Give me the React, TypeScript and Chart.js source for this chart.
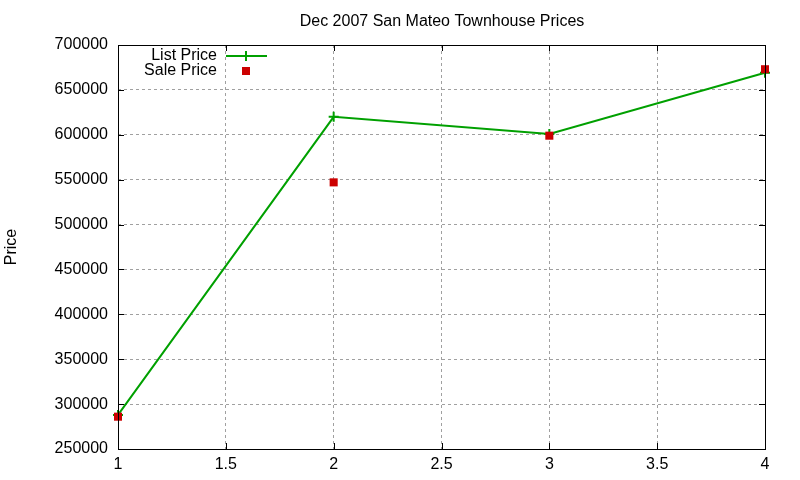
import { useEffect, useRef } from 'react'
import { Chart, registerables } from 'chart.js'

Chart.register(...registerables)

const FONT = '"Liberation Sans", Arial, sans-serif'

const title = 'Dec 2007 San Mateo Townhouse Prices'
const yTitle = 'Price'
const months = [1, 2, 3, 4]
const listPrice = [288000, 620000, 601000, 669000]
const salePrice = [286000, 547000, 599000, 673000]
const seriesNames = ['List Price', 'Sale Price']

const green = '#00a000'
const red = '#cc0000'

// gnuplot-like frame: inner tick marks on all four sides, title, key
const framePlugin = {
  id: 'frame',
  afterDraw(chart: any) {
    const { ctx, chartArea: a, scales } = chart
    const x = scales.x
    const y = scales.y
    ctx.save()
    ctx.strokeStyle = '#000'
    ctx.lineWidth = 1
    ctx.beginPath()
    x.ticks.forEach((t: any) => {
      const px = Math.round(x.getPixelForValue(t.value)) + 0.5
      ctx.moveTo(px, a.bottom)
      ctx.lineTo(px, a.bottom - 6)
      ctx.moveTo(px, a.top)
      ctx.lineTo(px, a.top + 6)
    })
    y.ticks.forEach((t: any) => {
      const py = Math.round(y.getPixelForValue(t.value)) + 0.5
      ctx.moveTo(a.left, py)
      ctx.lineTo(a.left + 6, py)
      ctx.moveTo(a.right, py)
      ctx.lineTo(a.right - 6, py)
    })
    ctx.stroke()
    ctx.strokeRect(Math.round(a.left) + 0.5, Math.round(a.top) + 0.5, Math.round(a.right - a.left), Math.round(a.bottom - a.top))

    ctx.fillStyle = '#000'
    ctx.font = `16px ${FONT}`
    ctx.textAlign = 'center'
    ctx.textBaseline = 'middle'
    ctx.fillText(title, (a.left + a.right) / 2 + 0.5, 22)

    ctx.save()
    ctx.translate(12, (a.top + a.bottom) / 2)
    ctx.rotate(-Math.PI / 2)
    ctx.fillText(yTitle, 0, 0)
    ctx.restore()

    // key
    ctx.textAlign = 'right'
    ctx.fillText(seriesNames[0], 217, 56)
    ctx.fillText(seriesNames[1], 217, 71)
    ctx.strokeStyle = green
    ctx.lineWidth = 2
    ctx.beginPath()
    ctx.moveTo(226, 56)
    ctx.lineTo(267, 56)
    ctx.moveTo(246, 51)
    ctx.lineTo(246, 61)
    ctx.stroke()
    ctx.fillStyle = red
    ctx.fillRect(242, 67, 8, 8)
    ctx.restore()
  },
}

export default function App() {
  const canvasRef = useRef<HTMLCanvasElement>(null)

  useEffect(() => {
    if (!canvasRef.current) return
    const chart = new Chart(canvasRef.current, {
      type: 'scatter',
      data: {
        datasets: [
          {
            label: seriesNames[0],
            data: months.map((m, i) => ({ x: m, y: listPrice[i] })),
            showLine: true,
            borderColor: green,
            backgroundColor: green,
            borderWidth: 2,
            pointStyle: 'cross',
            pointRadius: 5,
            pointBorderWidth: 2,
            clip: false,
            order: 2,
          },
          {
            label: seriesNames[1],
            data: months.map((m, i) => ({ x: m, y: salePrice[i] })),
            showLine: false,
            borderColor: red,
            backgroundColor: red,
            pointStyle: 'rect',
            pointRadius: 5.7,
            pointBorderWidth: 0,
            clip: false,
            order: 1,
          },
        ],
      },
      options: {
        animation: false,
        responsive: false,
        layout: { padding: { top: 45, right: 35, left: 0, bottom: 0 } },
        plugins: {
          legend: { display: false },
          title: { display: false },
          tooltip: { enabled: false },
        },
        scales: {
          x: {
            type: 'linear',
            min: 1,
            max: 4,
            afterFit: (s: any) => {
              s.height = 31
            },
            ticks: {
              stepSize: 0.5,
              color: '#000',
              padding: 6,
              font: { family: FONT, size: 16 },
              callback: (v: any) => String(v),
            },
            grid: {
              drawTicks: false,
              color: '#a0a0a0',
              lineWidth: 1,
            },
            border: { display: false, dash: [3, 3] },
          },
          y: {
            min: 250000,
            max: 700000,
            afterFit: (s: any) => {
              s.width = 118
            },
            ticks: {
              stepSize: 50000,
              color: '#000',
              padding: 10,
              font: { family: FONT, size: 16 },
              callback: (v: any) => String(v),
            },
            grid: {
              drawTicks: false,
              color: '#a0a0a0',
              lineWidth: 1,
            },
            border: { display: false, dash: [3, 3] },
          },
        },
      },
      plugins: [framePlugin],
    })
    return () => chart.destroy()
  }, [])

  return (
    <div style={{ position: 'absolute', left: 0, top: 0, width: 800, height: 480, background: '#fff' }}>
      <canvas ref={canvasRef} width={800} height={480} style={{ width: 800, height: 480 }} />
    </div>
  )
}
